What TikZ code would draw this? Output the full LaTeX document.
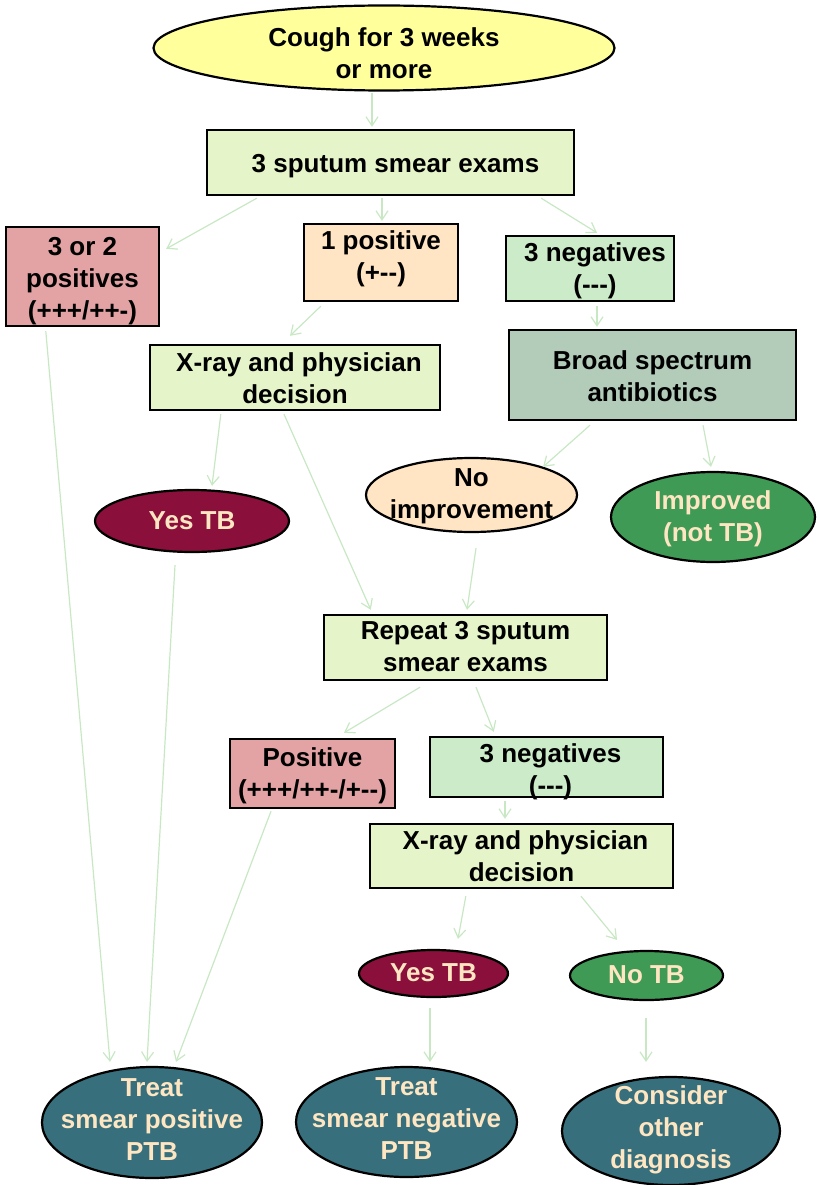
\documentclass[tikz,border=0pt]{standalone}
\usepackage{fontspec}
\setmainfont{Liberation Sans}[Ligatures=TeXOff]
\usetikzlibrary{shapes.geometric,arrows.meta}
\definecolor{cyellow}{HTML}{FFFF9C}
\definecolor{clight}{HTML}{E6F5C9}
\definecolor{cpink}{HTML}{E3A3A5}
\definecolor{cpeach}{HTML}{FFE5C4}
\definecolor{cmint}{HTML}{CCEBC8}
\definecolor{cgrey}{HTML}{B3CCB9}
\definecolor{cmaroon}{HTML}{8A0F3A}
\definecolor{cgreen}{HTML}{3F9A55}
\definecolor{cteal}{HTML}{37707C}
\definecolor{ccream}{HTML}{FFE6C2}
\definecolor{carrow}{HTML}{C8E8C4}
\tikzset{
  txt/.style={font=\fontsize{26}{32}\selectfont\bfseries, align=center, inner sep=0pt, text=black},
  ctxt/.style={txt, text=ccream},
  boxn/.style={draw=black, line width=2.4pt, rectangle, inner sep=0pt},
  ell/.style={draw=black, line width=2.2pt, ellipse, inner sep=0pt},
  arr/.style={draw=carrow, line width=1.2pt, -{Straight Barb[length=9pt,width=12pt]}}
}
\begin{document}
\begin{tikzpicture}[x=1pt,y=-1pt]
\useasboundingbox (0,0) rectangle (816,1185);
% nodes
\node[ell, fill=cyellow, minimum width=461pt, minimum height=85pt,
  label={[txt,yshift=-5pt]center:{Cough for 3 weeks\\or more}}] (cough) at (384,48) {};
\node[boxn, fill=clight, minimum width=367pt, minimum height=65pt,
  label={[txt,yshift=-4pt,xshift=5pt]center:{3 sputum smear exams}}] (smear) at (390.5,162.5) {};
\node[boxn, fill=cpink, minimum width=153pt, minimum height=99pt,
  label={[txt,yshift=-5pt]center:{3 or 2\\positives\\(+++/++-)}}] (pos32) at (82.5,276.5) {};
\node[boxn, fill=cpeach, minimum width=154pt, minimum height=77pt,
  label={[txt,yshift=4pt]center:{1 positive\\(+--)}}] (pos1) at (381,262.5) {};
\node[boxn, fill=cmint, minimum width=168pt, minimum height=65pt,
  label={[txt,yshift=-2pt,xshift=5pt]center:{3 negatives\\(---)}}] (neg3) at (590,268.5) {};
\node[boxn, fill=clight, minimum width=290pt, minimum height=65pt,
  label={[txt,yshift=-1pt]center:{\hspace*{8pt}X-ray and physician\\decision}}] (xray1) at (295,377.5) {};
\node[boxn, fill=cgrey, minimum width=287pt, minimum height=90pt,
  label={[txt,yshift=-1pt]center:{Broad spectrum\\antibiotics}}] (broad) at (652.5,375) {};
\node[ell, fill=cmaroon, minimum width=194pt, minimum height=62pt,
  label={[ctxt]center:{Yes TB}}] (yes1) at (192,521) {};
\node[ell, fill=cpeach, minimum width=211pt, minimum height=74pt,
  label={[txt,yshift=-1pt]center:{No\\improvement}}] (noimp) at (471.5,495) {};
\node[ell, fill=cgreen, minimum width=204pt, minimum height=90pt,
  label={[ctxt,yshift=-2pt]center:{Improved\\(not TB)}}] (impr) at (713,517) {};
\node[boxn, fill=clight, minimum width=283pt, minimum height=65pt,
  label={[txt,yshift=1pt]center:{Repeat 3 sputum\\smear exams}}] (repeat) at (465.5,647.5) {};
\node[boxn, fill=cpink, minimum width=165pt, minimum height=69pt,
  label={[txt,yshift=-2pt]center:{Positive\\(+++/++-/+--)}}] (posr) at (312.5,773.5) {};
\node[boxn, fill=cmint, minimum width=233pt, minimum height=60pt,
  label={[txt,yshift=-5pt,xshift=4pt]center:{3 negatives\\(---)}}] (negr) at (546.5,767) {};
\node[boxn, fill=clight, minimum width=303pt, minimum height=64pt,
  label={[txt]center:{\hspace*{8pt}X-ray and physician\\decision}}] (xray2) at (521.5,856) {};
\node[ell, fill=cmaroon, minimum width=149pt, minimum height=47pt,
  label={[ctxt,yshift=1pt]center:{Yes TB}}] (yes2) at (433.5,973.5) {};
\node[ell, fill=cgreen, minimum width=153pt, minimum height=49pt,
  label={[ctxt,yshift=1pt]center:{No TB}}] (notb) at (646.5,975.5) {};
\node[ell, fill=cteal, minimum width=220pt, minimum height=111pt,
  label={[ctxt,yshift=3pt]center:{Treat\\smear positive\\PTB}}] (treatp) at (152,1122.5) {};
\node[ell, fill=cteal, minimum width=221pt, minimum height=110pt,
  label={[ctxt,yshift=3pt]center:{Treat\\smear negative\\PTB}}] (treatn) at (406.5,1122) {};
\node[ell, fill=cteal, minimum width=218pt, minimum height=108pt,
  label={[ctxt,yshift=1pt]center:{Consider\\other\\diagnosis}}] (consider) at (671,1131) {};
% connectors
\draw[arr] ([xshift=-12pt,yshift=-1pt]cough.south) -- ([xshift=-18.5pt,yshift=2pt]smear.north);
\draw[arr] ([xshift=51pt,yshift=-2pt]smear.south west) -- ([xshift=6pt,yshift=-23pt]pos32.north east);
\draw[arr] ([xshift=-8.5pt,yshift=-2pt]smear.south) -- ([xshift=1pt,yshift=2pt]pos1.north);
\draw[arr] ([xshift=-34pt,yshift=-2pt]smear.south east) -- ([xshift=7pt,yshift=2pt]neg3.north);
\draw[arr] ([xshift=18pt,yshift=-4pt]pos1.south west) -- ([xshift=-5pt,yshift=8pt]xray1.north);
\draw[arr] ([xshift=7pt,yshift=-4pt]neg3.south) -- ([xshift=-55.5pt,yshift=2pt]broad.north);
\draw[arr] ([xshift=72pt,yshift=-3pt]xray1.south west) -- ([xshift=20pt,yshift=3pt]yes1.north);
\draw[arr] ([xshift=-11pt,yshift=-3pt]xray1.south) -- ([xshift=48pt,yshift=4pt]repeat.north west);
\draw[arr] ([xshift=-62.5pt,yshift=-4pt]broad.south) -- ([xshift=71.5pt,yshift=-10pt]noimp.north);
\draw[arr] ([xshift=50.5pt,yshift=-4pt]broad.south) -- ([xshift=-2pt,yshift=4pt]impr.north);
\draw[arr] ([xshift=4.5pt,yshift=-15pt]noimp.south) -- ([xshift=1.5pt,yshift=4pt]repeat.north);
\draw[arr] ([xshift=-45.5pt,yshift=-6pt]repeat.south) -- ([xshift=31.5pt,yshift=5pt]posr.north);
\draw[arr] ([xshift=10.5pt,yshift=-6pt]repeat.south) -- ([xshift=65pt,yshift=4pt]negr.north west);
\draw[arr] ([xshift=-41.5pt,yshift=-3pt]negr.south) -- ([xshift=-16.5pt,yshift=4pt]xray2.north);
\draw[arr] ([xshift=97pt,yshift=-7pt]xray2.south west) -- ([xshift=24.5pt,yshift=10pt]yes2.north);
\draw[arr] ([xshift=59.5pt,yshift=-7pt]xray2.south) -- ([xshift=-29.5pt,yshift=10pt]notb.north);
\draw[arr] ([xshift=-3.5pt,yshift=-10pt]yes2.south) -- ([xshift=23.5pt,yshift=4pt]treatn.north);
\draw[arr] ([xshift=-0.5pt,yshift=-17pt]notb.south) -- ([xshift=-25pt,yshift=14pt]consider.north);
\draw[arr] ([xshift=41pt,yshift=-4pt]pos32.south west) -- ([xshift=-42pt,yshift=4pt]treatp.north);
\draw[arr] ([xshift=-17pt,yshift=-12pt]yes1.south) -- ([xshift=-5pt,yshift=4pt]treatp.north);
\draw[arr] ([xshift=-41.5pt,yshift=-2pt]posr.south) -- ([xshift=24pt,yshift=4pt]treatp.north);
\end{tikzpicture}
\end{document}
